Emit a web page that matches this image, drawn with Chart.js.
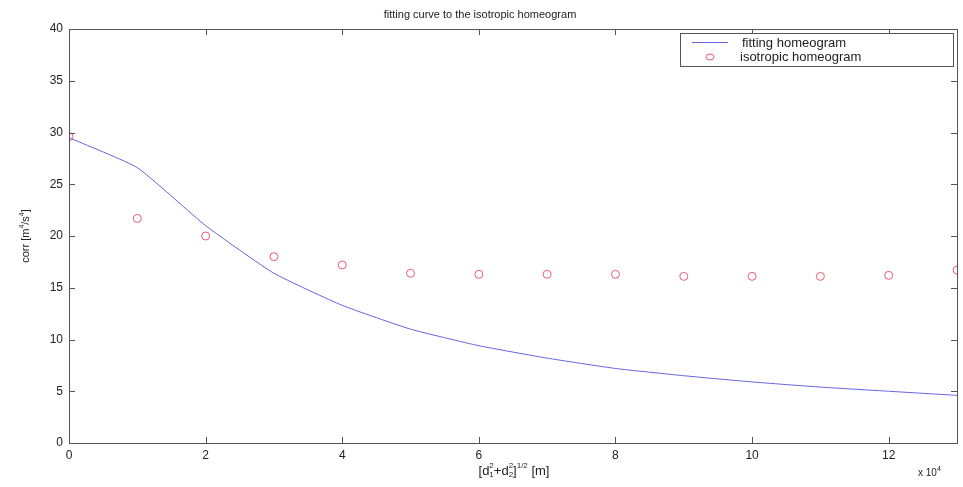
<!DOCTYPE html>
<html>
<head>
<meta charset="utf-8">
<script src="https://cdn.jsdelivr.net/npm/chart.js@4"></script>
<style>
  html, body { margin: 0; padding: 0; background: #fff; }
  #wrap { width: 963px; height: 487px; }
</style>
</head>
<body>
<div id="wrap"><canvas id="chart" width="963" height="487"></canvas></div>
<script>
// distance (x 10^4 m)
const distances = [0, 1, 2, 3, 4, 5, 6, 7, 8, 9, 10, 11, 12, 13];
const fittedCorr = [29.5, 26.6, 21.0, 16.4, 13.3, 11.0, 9.4, 8.2, 7.2, 6.5, 5.9, 5.4, 5.0, 4.6];
const isotropicCorr = [29.6, 21.7, 20.0, 18.0, 17.2, 16.4, 16.3, 16.3, 16.3, 16.1, 16.1, 16.1, 16.2, 16.7];
const xTicks = [0, 2, 4, 6, 8, 10, 12];
const yTicks = [0, 5, 10, 15, 20, 25, 30, 35, 40];

const lineColor = 'rgb(100, 100, 225)';
const markColor = 'rgb(235, 90, 120)';
const axisColor = '#555';
const fontFam = '"Liberation Sans", Arial, sans-serif';

// draws text made of pieces: [text, size, dy, advance?]
function drawPieces(ctx, pieces, x, y, measureOnly) {
    let cx = x;
    pieces.forEach(p => {
        ctx.font = p[1] + 'px ' + fontFam;
        if (!measureOnly) ctx.fillText(p[0], cx, y + p[2]);
        if (p[3] !== false) cx += ctx.measureText(p[0]).width;
    });
    return cx - x;
}

const decorPlugin = {
    id: 'decor',
    afterDraw(chart) {
        const ctx = chart.ctx;
        const a = chart.chartArea;
        const xs = chart.scales.x, ys = chart.scales.y;
        ctx.save();
        // box
        ctx.strokeStyle = axisColor;
        ctx.lineWidth = 1;
        ctx.strokeRect(a.left + 0.5, a.top + 0.5, a.right - a.left, a.bottom - a.top);
        // inward ticks on all four sides
        ctx.beginPath();
        xTicks.forEach(v => {
            const px = Math.round(xs.getPixelForValue(v)) + 0.5;
            ctx.moveTo(px, a.bottom); ctx.lineTo(px, a.bottom - 6);
            ctx.moveTo(px, a.top); ctx.lineTo(px, a.top + 6);
        });
        yTicks.forEach(v => {
            const py = Math.round(ys.getPixelForValue(v)) + 0.5;
            ctx.moveTo(a.left, py); ctx.lineTo(a.left + 6, py);
            ctx.moveTo(a.right, py); ctx.lineTo(a.right - 6, py);
        });
        ctx.stroke();

        ctx.fillStyle = '#222';
        ctx.textBaseline = 'middle';
        // title
        ctx.font = '11px ' + fontFam;
        ctx.textAlign = 'center';
        ctx.fillText('fitting curve to the isotropic homeogram', 480, 15);

        // x label, sub and sup stacked
        ctx.textAlign = 'left';
        const xl = [['[d', 13, 0], ['1', 8, 4, false], ['2', 8, -5], ['+d', 13, 0], ['2', 8, 4, false], ['2', 8, -5], [']', 13, 0], ['1/2', 8, -5], [' [m]', 13, 0]];
        const w = drawPieces(ctx, xl, 0, 0, true);
        drawPieces(ctx, xl, 514 - w / 2, 471);
        // x 10^4
        drawPieces(ctx, [['x 10', 10, 0], ['4', 7, -4]], 918, 473);

        // y label rotated
        ctx.save();
        ctx.translate(26, 236);
        ctx.rotate(-Math.PI / 2);
        const yl = [['corr [m', 11, 0], ['4', 7, -4], ['/s', 11, 0], ['4', 7, -4], [']', 11, 0]];
        const yw = drawPieces(ctx, yl, 0, 0, true);
        drawPieces(ctx, yl, -yw / 2, 0);
        ctx.restore();

        // legend
        const lx = 680, ly = 33, lw = 273, lh = 33;
        ctx.fillStyle = '#fff';
        ctx.fillRect(lx, ly, lw, lh);
        ctx.strokeStyle = axisColor;
        ctx.strokeRect(lx + 0.5, ly + 0.5, lw, lh);
        ctx.strokeStyle = lineColor;
        ctx.beginPath();
        ctx.moveTo(692, 42.5); ctx.lineTo(728, 42.5);
        ctx.stroke();
        ctx.strokeStyle = markColor;
        ctx.beginPath();
        ctx.ellipse(710, 57, 4, 3, 0, 0, Math.PI * 2);
        ctx.stroke();
        ctx.fillStyle = '#222';
        ctx.font = '13px ' + fontFam;
        ctx.fillText('fitting homeogram', 742, 43);
        ctx.fillText('isotropic homeogram', 740, 57);
        ctx.restore();
    }
};

new Chart(document.getElementById('chart'), {
    type: 'line',
    data: {
        datasets: [{
            label: 'fitting homeogram',
            data: distances.map((d, i) => ({ x: d, y: fittedCorr[i] })),
            borderColor: lineColor,
            borderWidth: 1,
            pointRadius: 0,
            tension: 0.15,
            fill: false
        }, {
            label: 'isotropic homeogram',
            data: distances.map((d, i) => ({ x: d, y: isotropicCorr[i] })),
            showLine: false,
            borderColor: markColor,
            backgroundColor: 'rgba(0,0,0,0)',
            borderWidth: 1,
            pointStyle: 'circle',
            pointRadius: 4
        }]
    },
    options: {
        responsive: false,
        animation: false,
        layout: { padding: { left: 0, top: 29, right: 6, bottom: 0 } },
        plugins: {
            legend: { display: false },
            title: { display: false },
            tooltip: { enabled: false }
        },
        scales: {
            x: {
                type: 'linear',
                min: 0, max: 13,
                afterBuildTicks: s => { s.ticks = xTicks.map(v => ({ value: v })); },
                afterFit: s => { s.height = 44; },
                grid: { display: false, drawTicks: false },
                border: { display: false },
                ticks: { color: '#222', padding: 5, font: { size: 12, family: fontFam }, maxRotation: 0 }
            },
            y: {
                type: 'linear',
                min: 0, max: 40,
                afterBuildTicks: s => { s.ticks = yTicks.map(v => ({ value: v })); },
                afterFit: s => { s.width = 69; },
                grid: { display: false, drawTicks: false },
                border: { display: false },
                ticks: { color: '#222', padding: 6, font: { size: 12, family: fontFam } }
            }
        }
    },
    plugins: [decorPlugin]
});
</script>
</body>
</html>
